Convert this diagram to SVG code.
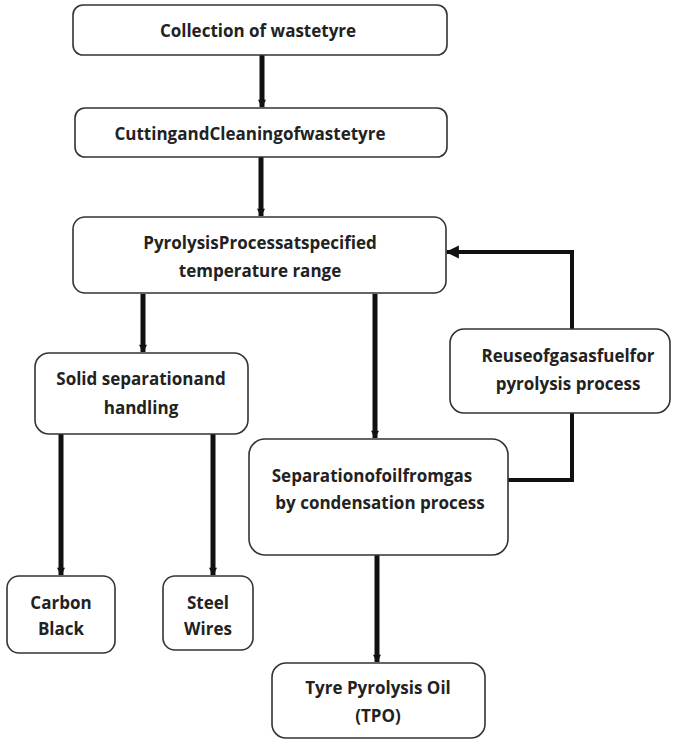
<svg xmlns="http://www.w3.org/2000/svg" width="678" height="743" viewBox="0 0 678 743">
<style>
.box{fill:#fff;stroke:#333;stroke-width:1.6}
.t{font-family:"Open Sans","Liberation Sans",sans-serif;font-weight:bold;font-size:17px;fill:#222;text-anchor:middle;dominant-baseline:central}
.c{fill:none;stroke:#111;stroke-width:5}
.f{fill:none;stroke:#111;stroke-width:4}
</style>
<defs>
<marker id="ah" viewBox="0 0 10 10" refX="9" refY="5" markerWidth="1.8" markerHeight="1.6" orient="auto" markerUnits="strokeWidth">
<path d="M0,0 L10,5 L0,10 Z" fill="#111"/>
</marker>
<marker id="ah2" viewBox="0 0 10 10" refX="9" refY="5" markerWidth="3.3" markerHeight="3.3" orient="auto" markerUnits="strokeWidth">
<path d="M0,0 L10,5 L0,10 Z" fill="#111"/>
</marker>
</defs>
<rect width="678" height="743" fill="#fff"/>
<g id="connectors">
<line class="c" x1="262" y1="55" x2="262" y2="107" marker-end="url(#ah)"/>
<line class="c" x1="261" y1="157" x2="261" y2="216" marker-end="url(#ah)"/>
<line class="c" x1="143" y1="294" x2="143" y2="352" marker-end="url(#ah)"/>
<line class="c" x1="375" y1="294" x2="375" y2="438" marker-end="url(#ah)"/>
<line class="c" x1="61" y1="434" x2="61" y2="575" marker-end="url(#ah)"/>
<line class="c" x1="213" y1="434" x2="213" y2="575" marker-end="url(#ah)"/>
<line class="c" x1="377" y1="555" x2="377" y2="662" marker-end="url(#ah)"/>
<polyline class="f" points="508,480 572,480 572,413"/>
<polyline class="f" points="572,329 572,252 447,252" marker-end="url(#ah2)"/>
</g>
<g id="n1"><rect class="box" x="73" y="5" width="374" height="50" rx="10"/><text class="t" x="258" y="30">Collection of wastetyre</text></g>
<g id="n2"><rect class="box" x="75" y="108" width="372" height="49" rx="10"/><text class="t" x="250" y="133">CuttingandCleaningofwastetyre</text></g>
<g id="n3"><rect class="box" x="73" y="217" width="373" height="76" rx="12"/><text class="t" x="260" y="242">PyrolysisProcessatspecified</text><text class="t" x="260" y="270">temperature range</text></g>
<g id="n4"><rect class="box" x="450" y="329" width="220" height="84" rx="14"/><text class="t" x="568" y="355">Reuseofgasasfuelfor</text><text class="t" x="568" y="383">pyrolysis process</text></g>
<g id="n5"><rect class="box" x="35" y="353" width="213" height="81" rx="14"/><text class="t" x="141" y="378">Solid separationand</text><text class="t" x="141" y="407">handling</text></g>
<g id="n6"><rect class="box" x="249" y="439" width="259" height="116" rx="16"/><text class="t" x="372" y="475">Separationofoilfromgas</text><text class="t" x="380" y="502">by condensation process</text></g>
<g id="n7"><rect class="box" x="7" y="576" width="108" height="77" rx="12"/><text class="t" x="61" y="602">Carbon</text><text class="t" x="61" y="628">Black</text></g>
<g id="n8"><rect class="box" x="163" y="576" width="90" height="74" rx="12"/><text class="t" x="208" y="602">Steel</text><text class="t" x="208" y="628">Wires</text></g>
<g id="n9"><rect class="box" x="272" y="663" width="213" height="75" rx="14"/><text class="t" x="378" y="687">Tyre Pyrolysis Oil</text><text class="t" x="378" y="715">(TPO)</text></g>
</svg>
